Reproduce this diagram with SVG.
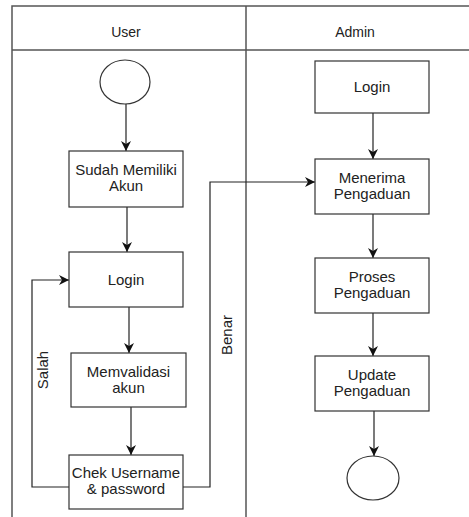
<svg xmlns="http://www.w3.org/2000/svg" width="469" height="517" viewBox="0 0 469 517">
<style>
.lane{fill:none;stroke:#555;stroke-width:1.5}
.box{fill:#fff;stroke:#333;stroke-width:1.2}
.c{fill:none;stroke:#222;stroke-width:1.2}
.t{font-family:"Liberation Sans",Arial,sans-serif;font-size:15px;fill:#222;text-anchor:middle}
.h{font-family:"Liberation Sans",Arial,sans-serif;font-size:14px;fill:#222;text-anchor:middle}
</style>
<defs>
<marker id="arr" viewBox="0 0 10 10" refX="10" refY="5" markerWidth="10" markerHeight="10" markerUnits="userSpaceOnUse" orient="auto">
<path d="M0,0 L10,5 L0,10 L3,5 Z" fill="#111"/>
</marker>
</defs>
<rect width="469" height="517" fill="#fff"/>
<g id="lanes">
<path class="lane" d="M12,517 V6 H470 M12,50 H470 M246,6 V517"/>
<text class="h" x="126" y="37">User</text>
<text class="h" x="355" y="37">Admin</text>
</g>
<g id="connectors">
<path class="c" d="M126,104 V151" marker-end="url(#arr)"/>
<path class="c" d="M127,207 V252" marker-end="url(#arr)"/>
<path class="c" d="M129,307 V353" marker-end="url(#arr)"/>
<path class="c" d="M131,407 V455" marker-end="url(#arr)"/>
<path class="c" d="M69,487 H32 V280 H69" marker-end="url(#arr)"/>
<path class="c" d="M183,487 H210 V182 H315" marker-end="url(#arr)"/>
<path class="c" d="M373,113 V159" marker-end="url(#arr)"/>
<path class="c" d="M373,214 V258" marker-end="url(#arr)"/>
<path class="c" d="M373,313 V356" marker-end="url(#arr)"/>
<path class="c" d="M374,411 V456" marker-end="url(#arr)"/>
<text class="t" transform="translate(48,370) rotate(-90)">Salah</text>
<text class="t" transform="translate(232,335) rotate(-90)">Benar</text>
</g>
<g id="start"><ellipse class="box" cx="125" cy="82" rx="25" ry="22"/></g>
<g id="sudah"><rect class="box" x="69" y="151" width="114" height="56"/>
<text class="t" x="126" y="175">Sudah Memiliki</text><text class="t" x="126" y="191">Akun</text></g>
<g id="login-user"><rect class="box" x="69" y="252" width="114" height="55"/>
<text class="t" x="126" y="285">Login</text></g>
<g id="validasi"><rect class="box" x="71" y="353" width="115" height="54"/>
<text class="t" x="128.5" y="377">Memvalidasi</text><text class="t" x="128.5" y="393">akun</text></g>
<g id="chek"><rect class="box" x="69" y="455" width="114" height="54"/>
<text class="t" x="126" y="478">Chek Username</text><text class="t" x="126" y="494">&amp; password</text></g>
<g id="login-admin"><rect class="box" x="315" y="61" width="114" height="52"/>
<text class="t" x="372" y="92">Login</text></g>
<g id="menerima"><rect class="box" x="315" y="159" width="114" height="55"/>
<text class="t" x="372" y="183">Menerima</text><text class="t" x="372" y="199">Pengaduan</text></g>
<g id="proses"><rect class="box" x="315" y="258" width="114" height="55"/>
<text class="t" x="372" y="282">Proses</text><text class="t" x="372" y="298">Pengaduan</text></g>
<g id="update"><rect class="box" x="315" y="356" width="114" height="55"/>
<text class="t" x="372" y="380">Update</text><text class="t" x="372" y="396">Pengaduan</text></g>
<g id="end"><ellipse class="box" cx="373" cy="478" rx="26" ry="22"/></g>
</svg>
